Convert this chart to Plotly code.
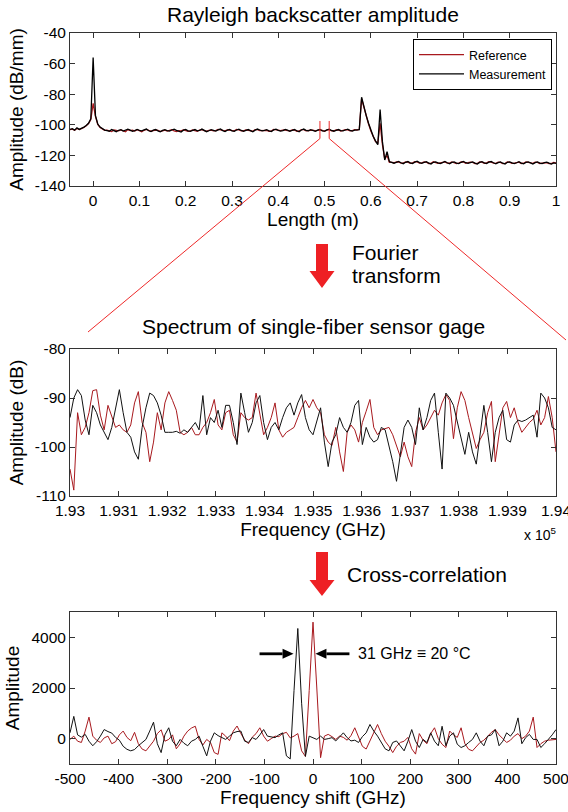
import numpy as np
import plotly.graph_objects as go

W, H = 568, 812
FONT = "Liberation Sans, Arial, sans-serif"
RED = "#a8191e"
BLK = "#111111"

# ---------------- data ----------------
length_ticks = [0, 0.1, 0.2, 0.3, 0.4, 0.5, 0.6, 0.7, 0.8, 0.9, 1.0]
length_tick_labels = ["0", "0.1", "0.2", "0.3", "0.4", "0.5", "0.6", "0.7", "0.8", "0.9", "1"]
rayleigh_ticks = [-140, -120, -100, -80, -60, -40]
rayleigh_tick_labels = ["-140", "-120", "-100", "-80", "-60", "-40"]

freq_ticks = [1.93, 1.931, 1.932, 1.933, 1.934, 1.935, 1.936, 1.937, 1.938, 1.939, 1.94]
freq_tick_labels = ["1.93", "1.931", "1.932", "1.933", "1.934", "1.935", "1.936", "1.937", "1.938", "1.939", "1.94"]
spec_ticks = [-110, -100, -90, -80]
spec_tick_labels = ["-110", "-100", "-90", "-80"]

shift_ticks = [-500, -400, -300, -200, -100, 0, 100, 200, 300, 400, 500]
shift_tick_labels = ["-500", "-400", "-300", "-200", "-100", "0", "100", "200", "300", "400", "500"]
corr_ticks = [0, 2000, 4000]
corr_tick_labels = ["0", "2000", "4000"]

# sample positions (m), 5 mm spacing
length_m = np.round(-0.05 + 0.005 * np.arange(211), 4)

meas_rayleigh = (
    [-103.0, -102.5, -103.5, -102.0, -103.0, -102.5, -101.5, -100.5, -99.0, -96.0,
     -56.0,
     -94.0, -99.5, -101.5, -102.5, -103.5]
    + [-103.8, -104.2, -103.1, -103.9, -104.5, -103.6, -103.2, -104.1, -103.7, -102.9,
       -103.5, -104.3, -103.8, -103.0, -103.6, -104.0, -103.3, -102.8, -103.9, -104.4,
       -103.5, -103.1, -104.0, -104.6, -103.7, -103.2, -103.8, -104.1, -103.4, -102.9,
       -103.6, -104.2, -104.7, -103.5, -103.0, -103.9, -104.3, -103.6, -103.1, -104.0,
       -103.7, -102.8, -103.4, -104.5, -103.9, -103.2, -103.6, -104.1, -103.3, -102.7,
       -103.8, -104.4, -103.5, -103.0, -103.9, -104.2, -103.4, -102.9, -103.7, -104.3,
       -103.6, -103.1, -103.8, -104.6, -103.5, -102.8, -103.4, -104.0, -103.7, -103.2,
       -103.9, -104.4, -103.3, -102.9, -103.6, -104.1, -103.8, -103.0, -103.5, -104.2,
       -103.7, -103.1, -103.9, -104.5, -103.4, -102.8, -103.6, -104.0, -103.2, -103.8,
       -104.3, -103.5, -103.0, -103.9, -104.1, -103.3, -102.9, -103.7, -104.2, -103.6,
       -103.1, -103.8, -104.0, -103.4, -102.9, -103.6, -104.1, -103.5, -103.2]
    + [-103.2, -82.0, -88.5, -94.0, -99.0, -103.5, -107.5, -110.5, -113.0, -90.0,
       -111.0, -123.0, -117.5, -124.0]
    + [-124.3, -125.1, -124.6, -123.9, -124.8, -125.4, -124.5, -124.0, -124.9, -125.3,
       -124.4, -123.8, -124.7, -125.2, -124.6, -124.1, -125.0, -125.6, -124.5, -124.2,
       -124.9, -125.3, -124.7, -124.0, -124.8, -125.5, -124.6, -124.3, -125.1, -125.4,
       -124.5, -123.9, -124.8, -125.2, -124.7, -124.2, -125.0, -125.7, -124.6, -124.1,
       -124.9, -125.3, -124.4, -124.0, -124.8, -125.5, -124.7, -124.3, -125.1, -125.6,
       -124.5, -124.2, -124.9, -125.4, -124.8, -124.1, -125.0, -125.5, -124.6, -124.3,
       -124.9, -125.6, -124.7, -124.2, -125.0, -125.4, -124.8, -124.4, -125.1, -125.7,
       -124.9, -125.2]
)

ref_rayleigh = (
    [-103.2, -102.8, -103.6, -102.4, -103.1, -102.7, -101.8, -100.7, -99.2, -96.5,
     -86.0,
     -94.5, -99.8, -101.8, -102.7, -103.6]
    + [-103.5, -103.9, -104.4, -103.3, -103.7, -104.0, -103.4, -103.9, -104.5, -103.1,
       -103.8, -103.5, -104.1, -103.2, -103.9, -104.6, -103.6, -103.0, -103.7, -104.2,
       -103.8, -103.4, -103.7, -104.3, -103.9, -103.5, -104.1, -103.6, -103.2, -103.9,
       -104.4, -103.8, -104.0, -103.3, -103.6, -104.2, -103.9, -103.4, -103.8, -104.3,
       -103.4, -103.1, -103.8, -104.2, -103.6, -103.5, -104.0, -103.8, -103.0, -103.4,
       -104.1, -104.0, -103.3, -103.5, -104.1, -103.9, -103.1, -103.3, -104.0, -103.9,
       -103.3, -103.5, -104.1, -104.2, -103.2, -103.1, -103.8, -103.7, -103.4, -103.6,
       -104.2, -104.1, -103.0, -103.3, -103.9, -103.8, -103.5, -103.4, -103.8, -104.0,
       -103.4, -103.4, -104.2, -104.1, -103.1, -103.2, -103.9, -103.7, -103.5, -103.5,
       -104.0, -103.8, -103.3, -103.6, -104.3, -103.5, -103.2, -103.9, -103.9, -103.3,
       -103.4, -104.1, -103.7, -103.1, -103.3, -103.9, -103.8, -103.2, -103.5]
    + [-103.0, -83.0, -89.0, -94.5, -99.5, -104.0, -108.0, -111.0, -112.0, -99.0,
       -113.0, -122.5, -120.0, -124.5]
    + [-124.6, -124.8, -124.2, -124.3, -125.1, -125.0, -124.2, -124.4, -125.2, -124.9,
       -124.1, -124.2, -125.0, -124.9, -124.3, -124.5, -125.3, -125.2, -124.2, -124.5,
       -125.2, -124.9, -124.4, -124.3, -125.1, -125.1, -124.3, -124.6, -125.3, -125.0,
       -124.2, -124.3, -125.1, -124.8, -124.4, -124.6, -125.4, -125.3, -124.3, -124.4,
       -125.2, -124.9, -124.1, -124.4, -125.1, -125.2, -124.4, -124.6, -125.4, -125.2,
       -124.2, -124.5, -125.2, -125.0, -124.5, -124.4, -125.3, -125.1, -124.3, -124.7,
       -125.2, -125.2, -124.4, -124.6, -125.3, -125.0, -124.5, -124.7, -125.4, -125.3,
       -124.6, -124.9]
)

# frequency samples (x 10^5 GHz)
freq_e5 = np.round(1.93 + 0.01 * np.arange(129) / 128, 8)

meas_spectrum = [
    -94, -90, -88.3, -89.5, -94.5, -97.5, -91.5, -93, -95.5, -97,
    -98.5, -96, -92, -88.3, -93, -97, -98, -101, -102.5, -96,
    -92, -89, -89.5, -91, -93.5, -97, -97, -97, -96.8, -97.2,
    -96.5, -97, -96, -95, -96.5, -89.5, -97.5, -94, -95, -92.5,
    -96, -91.5, -91.5, -95, -99.5, -89, -93, -97, -95, -91,
    -89.5, -95, -98.5, -96, -95, -96.5, -94, -92, -91, -93.5,
    -91, -89.3, -94, -96.5, -97.5, -95, -92, -99, -104, -99,
    -97.5, -94, -96, -97, -95, -91.5, -90.5, -99.5, -96, -98,
    -99, -98.5, -96, -96.5, -99.5, -103, -107, -101, -96, -94.5,
    -96, -99.5, -92, -96.5, -94, -90.5, -89, -97, -104.5, -89,
    -90, -91.5, -95, -98, -101.5, -97, -101, -103.5, -97, -91.5,
    -97, -103, -97, -94, -92.5, -98.5, -99, -95.5, -94.5, -94.8,
    -94.5, -94, -93.5, -98, -89, -90, -92, -96, -96.5,
]

ref_spectrum = [
    -104.5, -108.8, -93, -97.5, -96, -93, -88.5, -88.3, -93.5, -96.5,
    -91.5, -94, -96, -95.5, -96.5, -97, -95.5, -91, -88.7, -95,
    -97, -103, -99, -93, -96.5, -91, -88.7, -90.5, -92.5, -97,
    -97.5, -97, -96, -97.5, -97.5, -96, -95, -93, -90.3, -95.5,
    -96.5, -93, -92.5, -97.5, -99, -93, -94, -94.5, -94, -89,
    -93.5, -97.5, -96, -94, -91, -96.5, -98, -97, -96.5, -96,
    -94, -92, -90.5, -92, -90.3, -92, -93, -97.5, -99, -99.7,
    -96, -101, -105, -97, -95.5, -96.5, -99, -95, -92.7, -90.3,
    -96, -97.5, -96.5, -96.3, -96, -97.5, -100, -102, -99, -102,
    -104, -97, -94, -96.5, -95.5, -94, -92.5, -93.5, -91, -89.3,
    -90.5, -98.3, -92, -88.7, -90.5, -94, -97, -100.3, -98.5, -97,
    -93, -90.7, -103, -97, -92, -90.7, -94, -92, -95, -97,
    -96, -95, -94.3, -92.5, -95.5, -94, -89.7, -94, -101,
]

# frequency shift samples (GHz)
shift_ghz = -500 + 7.8125 * np.arange(129)

meas_corr = [
    230, 880, 150, 60, 170, -100, -280, -120, 100, 360,
    280, 220, 50, -60, -300, -420, -480, -430, -280, -150,
    -30, 300, 650, -200, -550, 150, 430, -100, -280, -30,
    -180, -280, -100, -30, 100, -300, -680, -100, 230, 120,
    40, -30, 100, 230, 280, 300, -100, -150, 40, -30,
    150, 360, 100, 60, 40, 150, 230, -680, -800, 1900,
    4350, 1400, -700, 100, 40, -30, 100, -30, 0, 40,
    -90, 50, 230, 40, -90, -60, -150, 80, 230, 560,
    300, 100, -150, -400, -480, -150, -90, -300, -480, -100,
    360, -100, -350, -30, -150, 230, -100, -280, 490, -280,
    100, 230, -220, -350, -280, -150, -30, 230, -100, -280,
    100, 150, 360, -280, -100, 230, 100, 300, 820, -200,
    40, 170, -30, -30, -350, -200, -30, 150, 360,
]

ref_corr = [
    -30, 100, -100, -150, 300, 850, 100, -60, -150, 30,
    100, -200, -120, 150, 300, 50, -80, 250, -200, -410,
    -480, -300, -100, 200, 350, -100, -30, 150, -400, -200,
    100, 300, 420, 490, -30, -250, -30, -150, -550, -620,
    230, 100, -80, 300, 500, 200, -50, -200, 60, 200,
    430, 100, -100, 0, 100, 80, 200, 250, 30, 100,
    200, -480, -700, 1900, 4600, 2000, -750, 100, 170, 80,
    -30, 100, 50, -60, 120, 430, 100, -300, -410, -100,
    200, 560, 200, -100, -300, -550, -300, -150, -100, 50,
    -400, -610, 200, -60, -200, 200, 430, 0, -220, -350,
    300, 150, 50, 430, -200, -420, -480, -300, -150, -60,
    100, 250, 360, 150, 0, -150, -60, 100, 200, 0,
    100, 300, 850, -350, -200, -100, -60, -30, -30,
]

assert len(meas_rayleigh) == len(length_m) == len(ref_rayleigh)
assert len(meas_spectrum) == len(freq_e5) == len(ref_spectrum)
assert len(meas_corr) == len(shift_ghz) == len(ref_corr)

# ---------------- layout geometry (pixels) ----------------
XL, XR = 70, 556
TOP = (33, 186)
MID = (349, 496)
BOT = (612, 764)
SHIFT_RANGE = (-500, 500)
CORR_RANGE = (-1000, 5000)


def pxx(p):
    return p / W


def pxy(p):
    return 1 - p / H


xdom = [pxx(XL), pxx(XR)]

fig = go.Figure()

# top: Rayleigh backscatter
fig.add_trace(go.Scatter(x=length_m, y=ref_rayleigh, mode="lines", name="Reference",
                         line=dict(color=RED, width=1.3), xaxis="x", yaxis="y"))
fig.add_trace(go.Scatter(x=length_m, y=meas_rayleigh, mode="lines", name="Measurement",
                         line=dict(color="black", width=1.3), xaxis="x", yaxis="y"))
# middle: spectrum
fig.add_trace(go.Scatter(x=freq_e5, y=ref_spectrum, mode="lines", showlegend=False,
                         line=dict(color=RED, width=1), xaxis="x2", yaxis="y2"))
fig.add_trace(go.Scatter(x=freq_e5, y=meas_spectrum, mode="lines", showlegend=False,
                         line=dict(color=BLK, width=1), xaxis="x2", yaxis="y2"))
# bottom: cross-correlation
fig.add_trace(go.Scatter(x=shift_ghz, y=ref_corr, mode="lines", showlegend=False,
                         line=dict(color=RED, width=1), xaxis="x3", yaxis="y3"))
fig.add_trace(go.Scatter(x=shift_ghz, y=meas_corr, mode="lines", showlegend=False,
                         line=dict(color=BLK, width=1), xaxis="x3", yaxis="y3"))

axis_common = dict(showline=True, linecolor="#333333", linewidth=1, mirror="ticks",
                   ticks="inside", ticklen=5, tickcolor="#333333", showgrid=False,
                   zeroline=False, automargin=False, ticklabeloverflow="allow",
                   tickfont=dict(family=FONT, size=15.5, color="black"),
                   title_font=dict(family=FONT, size=19, color="black"))

fig.update_layout(
    width=W, height=H, margin=dict(l=0, r=0, t=0, b=0, autoexpand=False),
    paper_bgcolor="white", plot_bgcolor="white",
    font=dict(family=FONT, color="black"),
    xaxis=dict(domain=xdom, range=[-0.05, 1.0], anchor="y", tickvals=length_ticks,
               ticktext=length_tick_labels, title=dict(text="Length (m)", standoff=4), **axis_common),
    yaxis=dict(domain=[pxy(TOP[1]), pxy(TOP[0])], range=[-140, -40], anchor="x",
               tickvals=rayleigh_ticks, ticktext=rayleigh_tick_labels,
               title=dict(text="Amplitude (dB/mm)", standoff=6), **axis_common),
    xaxis2=dict(domain=xdom, range=[1.93, 1.94], anchor="y2", tickvals=freq_ticks,
                ticktext=freq_tick_labels, title=dict(text="Frequency (GHz)", standoff=4), **axis_common),
    yaxis2=dict(domain=[pxy(MID[1]), pxy(MID[0])], range=[-110, -80], anchor="x2",
                tickvals=spec_ticks, ticktext=spec_tick_labels,
                title=dict(text="Amplitude (dB)", standoff=6), **axis_common),
    xaxis3=dict(domain=xdom, range=list(SHIFT_RANGE), anchor="y3", tickvals=shift_ticks,
                ticktext=shift_tick_labels, title=dict(text="Frequency shift (GHz)", standoff=4), **axis_common),
    yaxis3=dict(domain=[pxy(BOT[1]), pxy(BOT[0])], range=list(CORR_RANGE), anchor="x3",
                tickvals=corr_ticks, ticktext=corr_tick_labels,
                title=dict(text="Amplitude", standoff=6), **axis_common),
    legend=dict(x=pxx(552), y=pxy(39), xanchor="right", yanchor="top",
                bgcolor="white", bordercolor="black", borderwidth=1, itemwidth=45,
                font=dict(family=FONT, size=12.5, color="black"), traceorder="normal"),
    showlegend=True,
)

annotations = [
    dict(text="Rayleigh backscatter amplitude", x=pxx(313), y=pxy(15), xref="paper", yref="paper",
         showarrow=False, font=dict(family=FONT, size=21, color="black"), xanchor="center", yanchor="middle"),
    dict(text="Spectrum of single-fiber sensor gage", x=pxx(313), y=pxy(327), xref="paper", yref="paper",
         showarrow=False, font=dict(family=FONT, size=21, color="black"), xanchor="center", yanchor="middle"),
    dict(text="Fourier", x=pxx(350), y=pxy(253), xref="paper", yref="paper", showarrow=False,
         font=dict(family=FONT, size=21, color="black"), xanchor="left", yanchor="middle"),
    dict(text="transform", x=pxx(350), y=pxy(276), xref="paper", yref="paper", showarrow=False,
         font=dict(family=FONT, size=21, color="black"), xanchor="left", yanchor="middle"),
    dict(text="Cross-correlation", x=pxx(345), y=pxy(574), xref="paper", yref="paper", showarrow=False,
         font=dict(family=FONT, size=21, color="black"), xanchor="left", yanchor="middle"),
    dict(text="x 10<sup>5</sup>", x=pxx(558), y=pxy(534), xref="paper", yref="paper", showarrow=False,
         font=dict(family=FONT, size=14, color="black"), xanchor="right", yanchor="middle"),
    dict(text="31 GHz \u2261 20 \u00b0C", x=88, y=3350, xref="x3", yref="y3", showarrow=False,
         font=dict(family=FONT, size=16, color="black"), xanchor="left", yanchor="middle"),
]
fig.update_layout(annotations=annotations)


def data_to_px_top(xv, yv):
    px = XL + (xv - (-0.05)) / (1.0 - (-0.05)) * (XR - XL)
    py = TOP[1] - (yv - (-140)) / (-40 - (-140)) * (TOP[1] - TOP[0])
    return px, py


def data_to_px_bot(xv, yv):
    px = XL + (xv - SHIFT_RANGE[0]) / (SHIFT_RANGE[1] - SHIFT_RANGE[0]) * (XR - XL)
    py = BOT[1] - (yv - CORR_RANGE[0]) / (CORR_RANGE[1] - CORR_RANGE[0]) * (BOT[1] - BOT[0])
    return px, py


RLINE = "#ee2a2a"
zoom_lo, zoom_hi, zoom_top, zoom_bot = 0.49, 0.51, -97.5, -109.0
shapes = []
for zx in (zoom_lo, zoom_hi):
    shapes.append(dict(type="line", xref="x", yref="y", x0=zx, x1=zx, y0=zoom_top, y1=zoom_bot,
                       line=dict(color=RLINE, width=1)))
lx, ly = data_to_px_top(zoom_lo, zoom_bot)
rx, ry = data_to_px_top(zoom_hi, zoom_bot)
shapes.append(dict(type="line", xref="paper", yref="paper", x0=pxx(lx), y0=pxy(ly),
                   x1=pxx(88), y1=pxy(332), line=dict(color=RLINE, width=1)))
shapes.append(dict(type="line", xref="paper", yref="paper", x0=pxx(rx), y0=pxy(ry),
                   x1=pxx(566), y1=pxy(340), line=dict(color=RLINE, width=1)))


def block_arrow(cx, top, neck, tip, shaft_hw=6, head_hw=12.5):
    pts = [(cx - shaft_hw, top), (cx + shaft_hw, top), (cx + shaft_hw, neck), (cx + head_hw, neck),
           (cx, tip), (cx - head_hw, neck), (cx - shaft_hw, neck)]
    path = "M " + " L ".join(f"{pxx(a):.5f},{pxy(b):.5f}" for a, b in pts) + " Z"
    return dict(type="path", xref="paper", yref="paper", path=path,
                fillcolor="#ee2024", line=dict(width=0))


def horiz_arrow(tip_x, tail_x, yv, head_len=11, head_hw=5, lw=2.8):
    tx, ty = data_to_px_bot(tip_x, yv)
    sx, _ = data_to_px_bot(tail_x, yv)
    d = 1 if tx > sx else -1
    neck = tx - d * head_len
    out = [dict(type="line", xref="paper", yref="paper", x0=pxx(sx), y0=pxy(ty), x1=pxx(neck), y1=pxy(ty),
                line=dict(color="black", width=lw))]
    pts = [(tx, ty), (neck, ty - head_hw), (neck, ty + head_hw)]
    path = "M " + " L ".join(f"{pxx(a):.5f},{pxy(b):.5f}" for a, b in pts) + " Z"
    out.append(dict(type="path", xref="paper", yref="paper", path=path, fillcolor="black",
                    line=dict(width=0)))
    return out


shapes.append(block_arrow(322, 244, 271, 288))
shapes.append(block_arrow(322, 552, 580, 596))
shapes += horiz_arrow(-40, -110, 3350)
shapes += horiz_arrow(5, 75, 3350)
fig.update_layout(shapes=shapes)

fig.write_html("out.html")
